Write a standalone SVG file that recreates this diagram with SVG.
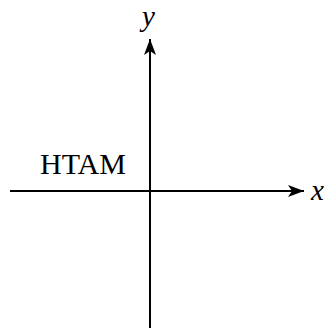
<svg xmlns="http://www.w3.org/2000/svg" width="326" height="330" viewBox="0 0 326 330">
<style>
.ax{stroke:#000;stroke-width:2;fill:none}
.lbl{font-family:"Liberation Serif",serif;font-style:italic;fill:#000}
.t{font-family:"Liberation Serif",serif;fill:#000}
</style>
<defs>
<marker id="ah" markerUnits="userSpaceOnUse" markerWidth="18" markerHeight="14" refX="16" refY="7" orient="auto" viewBox="0 0 18 14">
<path d="M0,1 L16,7 L0,13 L4,7 Z" fill="#000"/>
</marker>
</defs>
<rect width="326" height="330" fill="#fff"/>
<g id="connectors">
<line class="ax" x1="10" y1="191" x2="304" y2="191" marker-end="url(#ah)"/>
<line class="ax" x1="150" y1="328" x2="150" y2="39" marker-end="url(#ah)"/>
</g>
<g id="xlabel"><text class="lbl" x="311" y="200" font-size="29">x</text></g>
<g id="ylabel"><text class="lbl" x="142" y="26" font-size="29">y</text></g>
<g id="htam"><text class="t" x="40" y="174" font-size="30">HTAM</text></g>
</svg>
